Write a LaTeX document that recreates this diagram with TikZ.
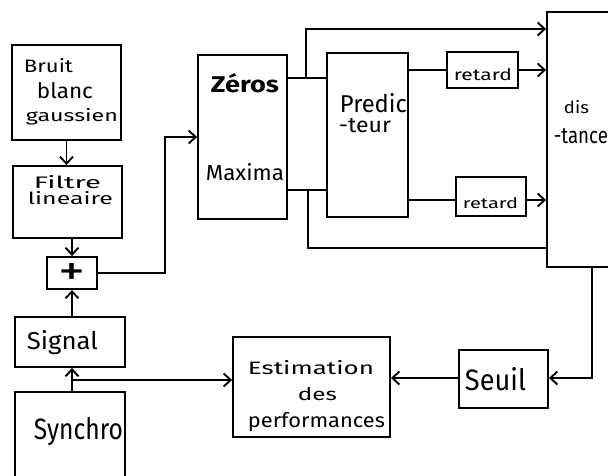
\documentclass[tikz,border=0pt]{standalone}
\usepackage{fontspec}
\setmainfont{Fira Sans}
\usetikzlibrary{arrows.meta,calc}
\newcommand\tx[3]{\resizebox{#1pt}{#2pt}{#3}}
\begin{document}
\begin{tikzpicture}[x=1pt,y=-1pt,line width=1.9pt,
  box/.style={draw,rectangle,inner sep=0pt},
  lab/.style={inner sep=0pt,anchor=base west},
  arr/.style={-{Straight Barb[length=7pt,width=13pt,line width=1.9pt]}}]
\useasboundingbox (0,0) rectangle (608,475);
% boxes
\node[box,minimum width=109pt,minimum height=95pt] (bruit) at (66.5,92.5) {};
\node[box,minimum width=109pt,minimum height=72pt] (filtre) at (67.5,202) {};
\node[box,minimum width=50pt,minimum height=32pt] (plus) at (72,273) {};
\node[box,minimum width=110pt,minimum height=50pt] (signal) at (70,342) {};
\node[box,minimum width=110pt,minimum height=96pt] (synchro) at (70,440) {};
\node[box,minimum width=89pt,minimum height=164pt] (zeros) at (242.5,137) {};
\node[box,minimum width=81pt,minimum height=164pt] (pred) at (367.5,135) {};
\node[box,minimum width=71pt,minimum height=36pt] (ret1) at (482.5,70) {};
\node[box,minimum width=70pt,minimum height=39pt] (ret2) at (491,196.5) {};
\node[box,minimum width=73pt,minimum height=255pt] (dist) at (583.5,139.5) {};
\node[box,minimum width=89pt,minimum height=58pt] (seuil) at (503.5,379) {};
\node[box,minimum width=157pt,minimum height=100pt] (estim) at (311.5,387) {};
% texts
\node[lab] (tb1) at (23,72) {\tx{49}{14}{Bruit}};
\node[lab] (tb2) at (36,98) {\tx{56}{16}{blanc}};
\node[lab] (tb3) at (25,121) {\tx{92}{13}{gaussien}};
\node[lab] (tf1) at (33,188) {\tx{67}{13}{Filtre}};
\node[lab] (tf2) at (27,204) {\tx{85}{13}{lineaire}};
\node[inner sep=0pt] (tp) at (72,274) {\tx{27}{22}{+}};
\node[lab] (ts) at (26,349) {\tx{71}{19}{Signal}};
\node[lab] (tsy) at (33,439) {\tx{89}{22}{Synchro}};
\node[lab] (tz) at (210,92) {\tx{68}{19}{\bfseries Zéros}};
\node[lab] (tm) at (205,180) {\tx{78}{17}{Maxima}};
\node[lab] (tp1) at (339,112) {\tx{67}{19}{Predic}};
\node[lab] (tp2) at (338,132) {\tx{52}{14}{-teur}};
\node[lab] (tr1) at (453,80) {\tx{58}{12}{retard}};
\node[lab] (tr2) at (462,208) {\tx{55}{11}{retard}};
\node[lab] (td1) at (563,113) {\tx{25}{13}{dis}};
\node[lab] (td2) at (553,143) {\tx{54}{15}{-tance}};
\node[lab] (te1) at (247,374) {\tx{126}{14}{Estimation}};
\node[lab] (te2) at (297,400) {\tx{39}{13}{des}};
\node[lab] (te3) at (247,427) {\tx{137}{15}{performances}};
\node[lab] (tse) at (464,390) {\tx{61}{23}{Seuil}};
% connectors
\draw[arr] (bruit.south) -- (bruit.south |- filtre.north);
\draw[arr] (plus.north |- filtre.south) -- (plus.north);
\draw[arr] (plus.south |- signal.north) -- (plus.south);
\draw[arr] (plus.south |- synchro.north) -- (plus.south |- signal.south);
\coordinate (br) at (72,380);
\draw[arr] (br) -- (br -| estim.west);
\coordinate (c1) at (165,137);
\draw[arr] (plus.east) -| (c1) -- (zeros.west |- c1);
\coordinate (ya) at (0,78);
\coordinate (yb) at (0,190);
\draw (zeros.east |- ya) -- (pred.west |- ya);
\draw (zeros.east |- yb) -- (pred.west |- yb);
\coordinate (ta) at (306,78);
\coordinate (tt) at (306,29);
\draw[arr] (ta) -- (tt) -- (tt -| dist.west);
\coordinate (ba) at (308,190);
\coordinate (bb) at (308,248);
\draw (ba) -- (bb) -- (bb -| dist.west);
\coordinate (y70) at (0,70);
\coordinate (y200) at (0,200);
\draw (pred.east |- y70) -- (ret1.west |- y70);
\draw[arr] (ret1.east |- y70) -- (dist.west |- y70);
\draw (pred.east |- y200) -- (ret2.west |- y200);
\draw[arr] (ret2.east |- y200) -- (dist.west |- y200);
\coordinate (ds) at (592,378);
\draw[arr] (ds |- dist.south) -- (ds) -- (seuil.east |- ds);
\draw[arr] (seuil.west |- ds) -- (estim.east |- ds);
\end{tikzpicture}
\end{document}
